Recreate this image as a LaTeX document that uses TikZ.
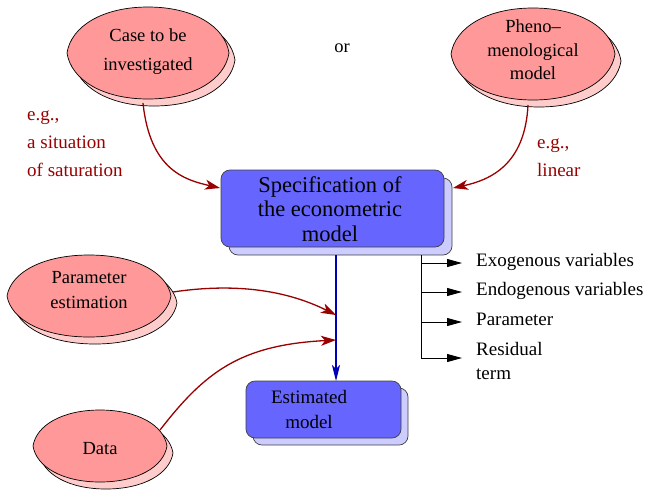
\documentclass[tikz,border=0pt]{standalone}
\usepackage{fontspec}
\setmainfont{Liberation Serif}
\usetikzlibrary{shapes.geometric,arrows.meta}
\definecolor{blobfill}{HTML}{FF9999}
\definecolor{blobshadow}{HTML}{FFCCCC}
\definecolor{boxfill}{HTML}{6666FF}
\definecolor{boxshadow}{HTML}{CCCCFF}
\definecolor{darkred}{HTML}{990000}
\definecolor{lineblue}{HTML}{0000BB}
\tikzset{
  blobline/.style={draw=black, line width=0.7pt},
  blobtext/.style={ellipse, inner sep=0pt, align=center, font=\fontsize{18.5}{25}\selectfont},
  modelbox/.style={rectangle, rounded corners=9pt, draw=black!75, line width=0.7pt, fill=boxfill, inner sep=0pt},
  boxshade/.style={rectangle, rounded corners=9pt, draw=black!75, line width=0.7pt, fill=boxshadow, inner sep=0pt},
  boxtext/.style={align=center, inner sep=0pt},
  redarrow/.style={draw=darkred, line width=1.3pt, -{Stealth[length=15pt,width=10pt,inset=4pt]}},
  bluearrow/.style={draw=lineblue, line width=1.1pt, -{Stealth[length=16pt,width=8pt,inset=4pt]}},
  blackline/.style={draw=black, line width=0.9pt},
  blackarrow/.style={draw=black, line width=0.9pt, -{Triangle[length=15pt,width=8pt]}},
  note/.style={text=darkred, align=left, anchor=base west, inner sep=0pt, font=\fontsize{19}{28}\selectfont},
  label/.style={anchor=base west, inner sep=0pt, align=left, font=\fontsize{19}{24}\selectfont},
}
% slightly pointed ellipse outline centred at origin: #1 half width, #2 half height
\newcommand{\lensoutline}[2]{%
  (-#1,0) .. controls (-0.95*#1,-0.58*#2) and (-0.56*#1,-#2) .. (0,-#2)
  .. controls (0.56*#1,-#2) and (0.95*#1,-0.58*#2) .. (#1,0)
  .. controls (0.95*#1,0.58*#2) and (0.56*#1,#2) .. (0,#2)
  .. controls (-0.56*#1,#2) and (-0.95*#1,0.58*#2) .. cycle}
% blob with shadow: #1 centre x, #2 centre y, #3 half width, #4 half height
\newcommand{\lensblob}[4]{%
  \begin{scope}[shift={(#1+6,#2+7)}]
    \path[blobline, fill=blobshadow] \lensoutline{#3}{#4};
  \end{scope}
  \begin{scope}[shift={(#1,#2)}]
    \path[blobline, fill=blobfill] \lensoutline{#3}{#4};
  \end{scope}}
\begin{document}
\begin{tikzpicture}[x=1pt,y=-1pt]
\useasboundingbox (0,0) rectangle (647,493);
% blobs
\lensblob{148}{53}{81}{46}
\lensblob{533}{54}{82}{46}
\lensblob{89}{296}{82}{41}
\lensblob{100}{446}{67}{36}
\node[blobtext, font=\fontsize{18.5}{29}\selectfont] (case) at (148,52) {Case to be\\investigated};
\node[blobtext, font=\fontsize{18.5}{23.5}\selectfont] (pheno) at (533,50) {Pheno–\\menological\\model};
\node[blobtext] (param) at (89,290) {Parameter\\estimation};
\node[blobtext] (data) at (100,449) {Data};
% or
\node[font=\fontsize{18.5}{24}\selectfont, inner sep=0pt] (or) at (342,48) {or};
% boxes
\node[boxshade, minimum width=223pt, minimum height=77pt] (specshade) at (340.5,216.5) {};
\node[modelbox, minimum width=223pt, minimum height=77pt] (spec) at (332.5,208.5) {};
\node[boxtext, font=\fontsize{22.5}{24.5}\selectfont] (spectext) at (330,209) {Specification of\\the econometric\\model};
\node[boxshade, minimum width=155pt, minimum height=57pt] (estshade) at (330.5,416.5) {};
\node[modelbox, minimum width=155pt, minimum height=57pt] (est) at (323.5,409.5) {};
\node[boxtext, font=\fontsize{19}{25}\selectfont] (esttext) at (309,409) {Estimated\\model};
% notes (base = last line)
\node[note] (note1) at (27,176) {e.g.,\\a situation\\of saturation};
\node[note] (note2) at (537,176) {e.g.,\\linear};
% junction coordinates
\coordinate (specbot) at (336,255);
\coordinate (j1) at (336,315);
\coordinate (j2) at (336,340);
\coordinate (esttop) at (336,381);
% red arrows
\draw[redarrow] (143,103) .. controls (150,170) and (185,180) .. (220,188);
\draw[redarrow] (528,105) .. controls (525,165) and (490,180) .. (453,188);
\draw[redarrow] (173,292) .. controls (240,282) and (290,292) .. (j1);
\draw[redarrow] (160,430) .. controls (205,372) and (240,345) .. (j2);
% blue
\draw[bluearrow] (specbot) -- (esttop);
% bracket
\coordinate (b0) at (421,255);
\coordinate (b1) at (421,263);
\coordinate (b2) at (421,292);
\coordinate (b3) at (421,322);
\coordinate (b4) at (421,358);
\node[label] (l1) at (476,266) {Exogenous variables};
\node[label] (l2) at (476,295) {Endogenous variables};
\node[label] (l3) at (476,325) {Parameter};
\node[label] (l4) at (476,379) {Residual\\term};
\draw[blackline] (b0) -- (b4);
\draw[blackarrow] (b1) -- (462,263);
\draw[blackarrow] (b2) -- (462,292);
\draw[blackarrow] (b3) -- (462,322);
\draw[blackarrow] (b4) -- (462,358);
\end{tikzpicture}
\end{document}
